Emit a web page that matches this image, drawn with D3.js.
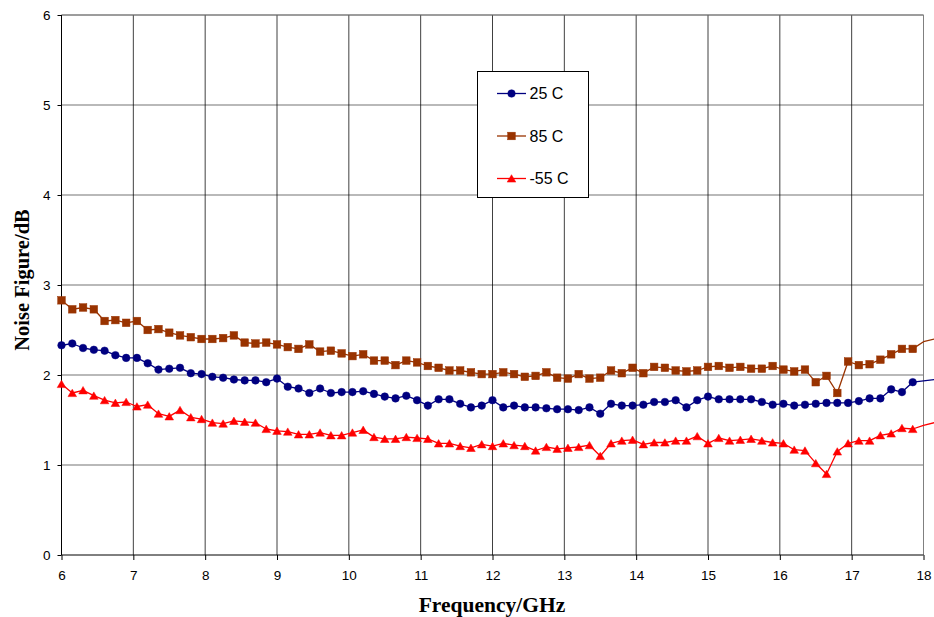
<!DOCTYPE html>
<html>
<head>
<meta charset="utf-8">
<script src="https://cdn.jsdelivr.net/npm/d3@7/dist/d3.min.js"></script>
<style>
  html, body { margin: 0; padding: 0; background: #fff; }
  svg { display: block; }
</style>
</head>
<body>
<svg id="chart" width="934" height="617"></svg>
<script>
// ---- data ----
const frequencies = [6.00,6.15,6.30,6.45,6.60,6.75,6.90,7.05,7.20,7.35,7.50,7.65,7.80,7.95,
  8.10,8.25,8.40,8.55,8.70,8.85,9.00,9.15,9.30,9.45,9.60,9.75,9.90,10.05,10.20,10.35,10.50,
  10.65,10.80,10.95,11.10,11.25,11.40,11.55,11.70,11.85,12.00,12.15,12.30,12.45,12.60,12.75,
  12.90,13.05,13.20,13.35,13.50,13.65,13.80,13.95,14.10,14.25,14.40,14.55,14.70,14.85,15.00,
  15.15,15.30,15.45,15.60,15.75,15.90,16.05,16.20,16.35,16.50,16.65,16.80,16.95,17.10,17.25,
  17.40,17.55,17.70,17.85,18.00,18.15];

const nf25 = [2.33,2.35,2.30,2.28,2.27,2.22,2.19,2.19,2.13,2.06,2.07,2.08,2.02,2.01,1.98,1.97,
  1.95,1.94,1.94,1.92,1.96,1.87,1.85,1.80,1.85,1.80,1.81,1.81,1.82,1.79,1.76,1.74,1.77,1.72,
  1.66,1.73,1.73,1.68,1.64,1.66,1.72,1.64,1.66,1.64,1.64,1.63,1.62,1.62,1.61,1.64,1.57,1.68,
  1.66,1.66,1.67,1.70,1.70,1.72,1.64,1.72,1.76,1.73,1.73,1.73,1.73,1.70,1.67,1.68,1.66,1.67,
  1.68,1.69,1.69,1.69,1.71,1.74,1.74,1.84,1.81,1.92,1.935,1.95];

const nf85 = [2.83,2.73,2.75,2.73,2.60,2.61,2.58,2.60,2.50,2.51,2.47,2.44,2.42,2.40,2.40,2.41,
  2.44,2.36,2.35,2.36,2.34,2.31,2.29,2.34,2.26,2.27,2.24,2.21,2.23,2.16,2.16,2.11,2.16,2.14,
  2.10,2.08,2.05,2.05,2.03,2.01,2.01,2.03,2.01,1.98,1.99,2.03,1.97,1.96,2.01,1.96,1.97,2.05,
  2.02,2.08,2.02,2.09,2.08,2.05,2.04,2.05,2.09,2.10,2.08,2.09,2.07,2.07,2.10,2.06,2.04,2.06,
  1.92,1.99,1.80,2.15,2.11,2.12,2.17,2.23,2.29,2.29,2.37,2.40];

const nfm55 = [1.90,1.80,1.83,1.77,1.72,1.69,1.70,1.65,1.67,1.57,1.54,1.61,1.53,1.51,1.47,1.46,
  1.49,1.48,1.47,1.40,1.38,1.37,1.34,1.34,1.36,1.33,1.33,1.36,1.39,1.31,1.29,1.29,1.31,1.30,
  1.29,1.24,1.24,1.21,1.19,1.23,1.21,1.24,1.22,1.21,1.16,1.20,1.18,1.19,1.20,1.22,1.10,1.24,
  1.27,1.28,1.23,1.25,1.25,1.27,1.27,1.32,1.24,1.30,1.27,1.28,1.29,1.27,1.25,1.24,1.17,1.16,
  1.02,0.90,1.15,1.24,1.27,1.27,1.33,1.35,1.41,1.40,1.44,1.47];

const seriesNames = ["25 C", "85 C", "-55 C"];
const xTicks = [6,7,8,9,10,11,12,13,14,15,16,17,18];
const yTicks = [0,1,2,3,4,5,6];
const xTitle = "Frequency/GHz";
const yTitle = "Noise Figure/dB";

// ---- drawing ----
const svg = d3.select("#chart");
const x = d3.scaleLinear().domain([6, 18]).range([61.5, 923.5]);
const y = d3.scaleLinear().domain([0, 6]).range([555, 15]);

const styles = [
  { color: "#000080", marker: "circle" },
  { color: "#993300", marker: "square" },
  { color: "#FF0000", marker: "triangle" }
];
const values = [nf25, nf85, nfm55];

// gridlines
svg.append("g").selectAll("line.hg").data(yTicks.filter(d => d > 0)).join("line")
  .attr("x1", x(6)).attr("x2", x(18))
  .attr("y1", d => y(d)).attr("y2", d => y(d))
  .attr("stroke", "#000").attr("stroke-width", 1).attr("stroke-opacity", 0.55);
svg.append("g").selectAll("line.vg").data(xTicks.filter(d => d > 6)).join("line")
  .attr("x1", d => x(d)).attr("x2", d => x(d))
  .attr("y1", y(0)).attr("y2", y(6))
  .attr("stroke", "#000").attr("stroke-width", 1).attr("stroke-opacity", 0.75);

// plot border top/right
svg.append("path")
  .attr("d", `M${x(6)},${y(6)}H${x(18)}V${y(0)}`)
  .attr("fill", "none").attr("stroke", "#808080").attr("stroke-width", 1);

// axes
const yAxis = d3.axisLeft(y).tickValues(yTicks).tickSize(4).tickPadding(7).tickFormat(d3.format("d"));
const xAxis = d3.axisBottom(x).tickValues(xTicks).tickSize(5).tickPadding(10).tickFormat(d3.format("d"));

const gy = svg.append("g").attr("transform", `translate(${x(6)},0)`).call(yAxis);
const gx = svg.append("g").attr("transform", `translate(0,${y(0)})`).call(xAxis);
[gx, gy].forEach(g => {
  g.select(".domain").attr("stroke", "#000").attr("stroke-width", 1);
  g.selectAll(".tick line").attr("stroke", "#000");
  g.selectAll(".tick text").attr("fill", "#000")
    .attr("font-family", "'Liberation Sans', Arial, sans-serif").attr("font-size", 13.5);
});
gy.select(".domain").attr("d", `M0,${y(0)}V${y(6)}`);
gx.select(".domain").attr("d", `M${x(6)},0H${x(18)}`);

// axis titles
svg.append("text").attr("x", 492).attr("y", 612)
  .attr("text-anchor", "middle")
  .attr("font-family", "'Liberation Serif', 'Times New Roman', serif")
  .attr("font-weight", "bold").attr("font-size", 21.5).attr("fill", "#000")
  .text(xTitle);
svg.append("text").attr("transform", "translate(29,280) rotate(-90)")
  .attr("text-anchor", "middle")
  .attr("font-family", "'Liberation Serif', 'Times New Roman', serif")
  .attr("font-weight", "bold").attr("font-size", 20.5).attr("fill", "#000")
  .text(yTitle);

// marker drawing
function drawMarker(sel, type, color) {
  if (type === "circle") {
    sel.append("circle").attr("r", 3.8).attr("fill", color).attr("stroke", color).attr("stroke-width", 0.5);
  } else if (type === "square") {
    sel.append("rect").attr("x", -3.8).attr("y", -3.8).attr("width", 7.6).attr("height", 7.6)
      .attr("fill", color).attr("stroke", color).attr("stroke-width", 0.5);
  } else {
    sel.append("path").attr("d", "M0,-3.8L4.3,3.6L-4.3,3.6Z")
      .attr("fill", color).attr("stroke", color).attr("stroke-width", 0.5);
  }
}

const line = d3.line().x(d => x(d.f)).y(d => y(d.v));

values.forEach((vals, si) => {
  const pts = frequencies.map((f, i) => ({ f, v: vals[i] }));
  const st = styles[si];
  svg.append("path").datum(pts).attr("d", line)
    .attr("fill", "none").attr("stroke", st.color).attr("stroke-width", 1.3)
    .attr("stroke-linejoin", "round");
  const mg = svg.append("g");
  mg.selectAll("g").data(pts.filter(p => p.f < 17.95)).join("g")
    .attr("transform", d => `translate(${x(d.f)},${y(d.v)})`)
    .each(function() { drawMarker(d3.select(this), st.marker, st.color); });
});

// legend
const lg = svg.append("g");
lg.append("rect").attr("x", 477.5).attr("y", 71.5).attr("width", 111).attr("height", 126)
  .attr("fill", "#fff").attr("stroke", "#000").attr("stroke-width", 1);
const legY = [93.5, 136, 178.5];
seriesNames.forEach((name, i) => {
  const st = styles[i];
  const g = lg.append("g").attr("transform", `translate(0,${legY[i]})`);
  g.append("line").attr("x1", 497).attr("x2", 526).attr("y1", 0).attr("y2", 0)
    .attr("stroke", st.color).attr("stroke-width", 1.3);
  const m = g.append("g").attr("transform", "translate(511.5,0)");
  drawMarker(m, st.marker, st.color);
  g.append("text").attr("x", 529.5).attr("y", 0).attr("dy", "0.36em")
    .attr("font-family", "'Liberation Sans', Arial, sans-serif").attr("font-size", 16)
    .attr("fill", "#000").text(name);
});
</script>
</body>
</html>
